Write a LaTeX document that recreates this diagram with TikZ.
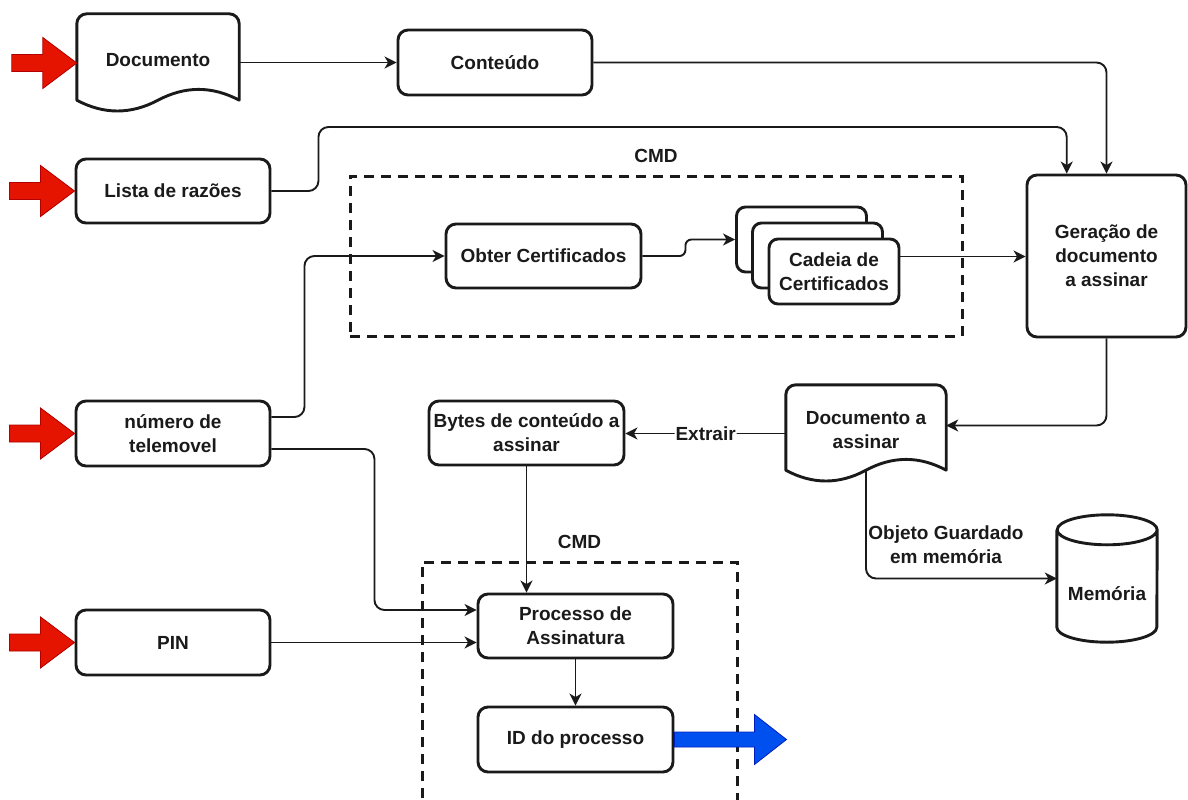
\documentclass[tikz,border=0pt]{standalone}
\usepackage{fontspec}
\setmainfont{Liberation Sans}
\usetikzlibrary{arrows.meta,calc}

\definecolor{inred}{HTML}{E51400}
\definecolor{inredline}{HTML}{B20000}
\definecolor{outblue}{HTML}{0050EF}
\definecolor{outblueline}{HTML}{001DBC}
\definecolor{ink}{HTML}{1A1A1A}

\tikzset{
  every node/.style={font=\bfseries\fontsize{19}{24}\selectfont, text=ink, inner sep=1pt},
  boxline/.style={line width=2.9pt, draw=ink, line join=round},
  box/.style={boxline, rounded corners=10pt, fill=white, align=center},
  card/.style={boxline, rounded corners=9pt, fill=white, align=center,
    minimum width=130, minimum height=65},
  area/.style={inner sep=0pt, minimum width=0pt, minimum height=0pt},
  groupbox/.style={draw=ink, line width=3pt, dash pattern=on 10pt off 7pt},
  conn/.style={line width=1.9pt, draw=ink, rounded corners=10pt,
    -{Stealth[length=12pt,width=12pt,inset=3.5pt]}},
  edgelbl/.style={fill=white, inner sep=1pt},
  inarr/.style={fill=inred, draw=inredline, line width=0.8pt, line join=miter},
  outarr/.style={fill=outblue, draw=outblueline, line width=0.8pt, line join=miter},
}

% paper document outline: rounded top, wavy bottom
\newcommand\wavedoc[1]{%
  \draw[boxline] let \p1=(#1.north west), \p2=(#1.south east), \n1={\x2-\x1} in
    (\x1,\y2+12pt) -- (\x1,\y1-10pt) arc[start angle=180,end angle=90,radius=10pt]
    -- (\x2-10pt,\y1) arc[start angle=90,end angle=0,radius=10pt]
    -- (\x2,\y2+12pt)
    .. controls (\x2-\n1/6,\y2+26.4pt) and (\x1+\n1/2+\n1/6,\y2+26.4pt) .. (\x1+\n1/2,\y2+12pt)
    .. controls (\x1+\n1/2-\n1/6,\y2-2.4pt) and (\x1+\n1/6,\y2-2.4pt) .. (\x1,\y2+12pt)
    -- cycle;}

% storage cylinder
\newcommand\cylinderdb[1]{%
  \draw[boxline, fill=white] let \p1=(#1.north west), \p2=(#1.south east) in
    (\x1,\y1-15pt) -- (\x1,\y2+15pt)
    arc[start angle=180,end angle=360,x radius=50pt,y radius=15pt]
    -- (\x2,\y1-15pt)
    arc[start angle=0,end angle=180,x radius=50pt,y radius=15pt]
    arc[start angle=180,end angle=360,x radius=50pt,y radius=15pt];}

% red input arrow ending at the given point
\newcommand\inarrow[1]{%
  \draw[inarr] (#1) -- ++(-34,-25.5) -- ++(0,17) -- ++(-31,0) -- ++(0,17)
    -- ++(31,0) -- ++(0,17) -- cycle;}

\begin{document}
\begin{tikzpicture}[x=1pt,y=-1pt]
\useasboundingbox (0,0) rectangle (1188,800);
\clip (0,0) rectangle (1188,800);

% CMD groups
\node[groupbox, minimum width=612, minimum height=160] (cmdA) at (656,256) {};
\node (cmdAlbl) at ([yshift=19pt]cmdA.north) {CMD};
\node[groupbox, minimum width=315, minimum height=300] (cmdB) at (579.5,712) {};
\node (cmdBlbl) at ([yshift=19pt]cmdB.north) {CMD};

% inputs
\node[area, minimum width=162, minimum height=98] (doc) at (158,63) {};
\wavedoc{doc}
\node (doctxt) at ([yshift=3pt]doc.center) {Documento};
\node[box, minimum width=194, minimum height=64] (lista) at (173,191) {Lista de razões};
\node[box, minimum width=194, minimum height=65] (num) at (173,433.5) {número de\\telemovel};
\node[box, minimum width=194, minimum height=65] (pin) at (173,642.5) {PIN};

\inarrow{doc.west}
\inarrow{lista.west}
\inarrow{num.west}
\inarrow{pin.west}

% processing
\node[box, minimum width=194, minimum height=65] (cont) at (495,62.5) {Conteúdo};
\node[box, minimum width=195, minimum height=64] (obter) at (543.5,256) {Obter Certificados};
\node[card] (cadA) at (801.5,239.5) {};
\node[card] (cadB) at (817.5,255.5) {};
\node[card] (cadC) at (834,271.5) {Cadeia de\\Certificados};
\node[box, minimum width=159, minimum height=162] (gen) at (1106.5,256) {Geração de\\documento\\a assinar};

\node[area, minimum width=160, minimum height=97] (doc2) at (866,433.5) {};
\wavedoc{doc2}
\node[align=center] (doc2txt) at ([yshift=3.5pt]doc2.center) {Documento a\\assinar};

\node[box, minimum width=195, minimum height=64] (bytes) at (526.5,433) {Bytes de conteúdo a\\assinar};

\node[area, minimum width=100, minimum height=127] (mem) at (1107,578.5) {};
\cylinderdb{mem}
\node (memtxt) at (1107,594) {Memória};

\node[box, minimum width=195, minimum height=64] (proc) at (575.5,626) {Processo de\\Assinatura};
\node[box, minimum width=195, minimum height=65] (id) at (575.5,739.5) {ID do processo};

% output arrow
\draw[outarr] (id.east) ++(0,-7.5) -- ++(80,0) -- ++(0,-17.5) -- ++(32,25)
  -- ++(-32,25) -- ++(0,-17.5) -- ++(-80,0) -- cycle;

% connectors
\draw[conn] (doc.east |- cont.west) -- (cont.west);
\draw[conn] (cont.east) -| (gen.north);
\draw[conn] (lista.east) -- ++(47,0) -- ++(0,-64) -| ([xshift=-39.75pt]gen.north);
\draw[conn] ([yshift=16.5pt]num.east) -- ++(33,0) |- (obter.west);
\draw[conn] ([yshift=-15.5pt]num.east) -- ++(103,0) |- ([yshift=16pt]proc.west);
\draw[conn] (pin.east) -- (pin.east -| proc.west);
\draw[conn, rounded corners=6pt] (obter.east) -- ++(43,0) |- (cadA.west);
\draw[conn] ([yshift=15pt]cadC.east) -- ([yshift=15pt]cadC.east -| gen.west);
\draw[conn] (gen.south) |- ([yshift=8pt]doc2.east);
\draw[conn] (doc2.west) -- (doc2.west -| bytes.east)
  node[edgelbl, midway] (extrair) {Extrair};
\draw[conn] ([yshift=12pt]doc2.south) |- (mem.west);
\node[align=center] (memlbl) at (946,545) {Objeto Guardado\\em memória};
\draw[conn] (bytes.south) -- (bytes.south |- proc.north);
\draw[conn] (proc.south) -- (id.north);

\end{tikzpicture}
\end{document}
